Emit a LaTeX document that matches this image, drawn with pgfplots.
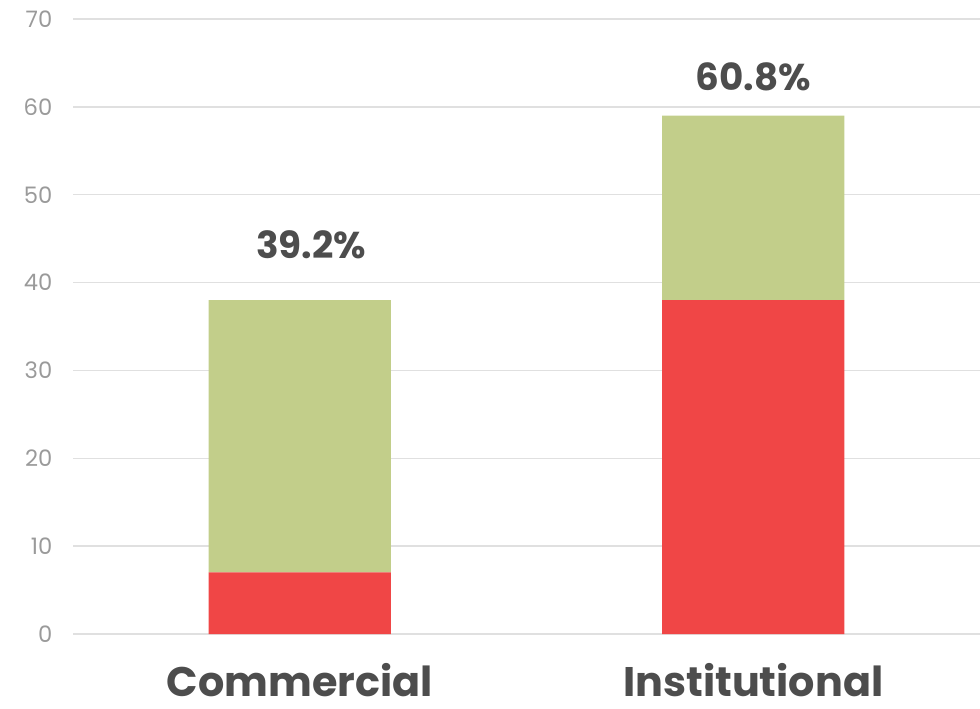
\documentclass[border=0pt]{standalone}
\usepackage{pgfplots}
\pgfplotsset{compat=1.18}
\usepackage{fontspec}
\setmainfont{Poppins}
\definecolor{barred}{HTML}{F04646}
\definecolor{bargreen}{HTML}{C2CE8A}
\definecolor{gridc}{HTML}{E0E0E0}
\definecolor{tickc}{HTML}{9A9A9A}
\definecolor{txtc}{HTML}{4D4D4D}
\begin{document}
\begin{tikzpicture}
\begin{axis}[
  name=ax,
  scale only axis,
  width=680.25pt, height=461.25pt,
  xmin=-0.5, xmax=1.5,
  ymin=0, ymax=70,
  ybar stacked,
  bar width=0.402,
  axis line style={draw=none},
  major tick length=0pt,
  xtick={0,1},
  xticklabels={Commercial,Institutional},
  ytick={0,10,...,70},
  ymajorgrids,
  grid style={gridc, line width=1pt},
  /pgf/number format/assume math mode=true,
  yticklabel style={font=\fontsize{17}{20}\selectfont, text=tickc, xshift=-12pt},
  xticklabel style={font=\fontsize{31}{36}\selectfont\bfseries, text=txtc, inner sep=1pt, yshift=-20.5pt},
]
\addplot[fill=barred, draw=none] coordinates {(0,7) (1,38)};
\addplot[fill=bargreen, draw=none] coordinates {(0,31) (1,21)};
\node[font=\fontsize{28}{31}\selectfont\bfseries, text=txtc] at (axis cs:0.025,44.3) {39.2\%};
\node[font=\fontsize{28}{31}\selectfont\bfseries, text=txtc] at (axis cs:1,63.4) {60.8\%};
\end{axis}
\pgfresetboundingbox
\path[use as bounding box] ([shift={(-54.75pt,-56.25pt)}]ax.south west) rectangle ([shift={(680.25pt,475.5pt)}]ax.south west);
\end{tikzpicture}
\end{document}
